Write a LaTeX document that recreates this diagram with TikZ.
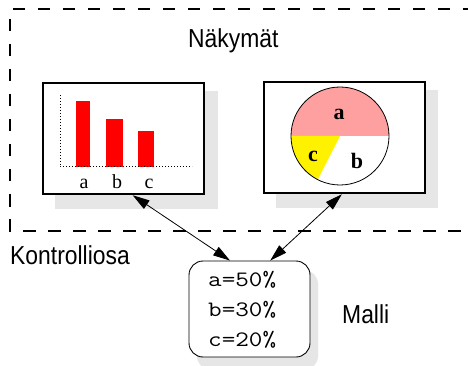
\documentclass[tikz,border=0pt]{standalone}
\usepackage{fontspec}
\setmainfont{Liberation Sans}
\newfontfamily\serifbars{Liberation Serif}
\usetikzlibrary{arrows.meta,calc}
\definecolor{shadowgray}{HTML}{E6E6E6}
\definecolor{piepink}{HTML}{FFA0A0}
\begin{document}
\begin{tikzpicture}[x=1pt,y=-1pt,
  viewframe/.style={draw=black, line width=2.5pt, fill=white, minimum width=161pt, minimum height=111pt, inner sep=0pt},
  modelbox/.style={draw=black, line width=0.9pt, fill=white, rounded corners=14pt, minimum width=121pt, minimum height=96pt, inner sep=0pt},
  shadowfill/.style={fill=shadowgray},
  region/.style={line width=1.2pt, dash pattern=on 12.5pt off 12.5pt},
  bigtext/.style={inner sep=0pt, anchor=base west, font=\fontsize{26}{30}\selectfont},
  barlabel/.style={inner sep=0pt, anchor=base, font=\serifbars\fontsize{20}{24}\selectfont},
  pielabel/.style={inner sep=0pt, anchor=base, font=\serifbars\bfseries\fontsize{22}{26}\selectfont},
  modeltext/.style={inner sep=0pt, anchor=base west, font=\ttfamily\fontsize{22}{26}\selectfont},
  link/.style={line width=0.8pt, {Triangle[length=17pt,width=10pt]}-{Triangle[length=17pt,width=10pt]}},
  bar/.style={fill=red},
  axis/.style={dotted, line width=1pt}
]
\useasboundingbox (0,0) rectangle (468,366);
\fill[white] (0,0) rectangle (468,366);

% dashed region (views)
\draw[region] (475,9) -- (10,9) -- (10,231) -- (475,231);

% shadows
\fill[shadowfill] (55,91) rectangle (218,209);
\fill[shadowfill] (276,90) rectangle (438,208);
\fill[shadowfill, rounded corners=14pt] (197,270) rectangle (318,370);

% frames
\node[viewframe] (bars) at (123.5,138.5) {};
\node[viewframe] (pie) at (344.5,137.5) {};

% bar chart
\fill[bar] (76,101) rectangle (90,167);
\fill[bar] (106,119) rectangle (123,167);
\fill[bar] (138,131) rectangle (154,167);
\draw[axis] (60,95) -- (60,167) -- (192,167);
\node[barlabel] (la) at (84,189) {a};
\node[barlabel] (lb) at (117,189) {b};
\node[barlabel] (lc) at (149,189) {c};

% pie chart
\fill[piepink] (291,136) arc[start angle=180, end angle=0, radius=49pt] -- cycle;
\fill[yellow] (340,136) -- +(180:49pt) arc[start angle=180, end angle=243, radius=49pt] -- cycle;
\draw[line width=0.8pt] (340,136) circle[radius=49pt];
\node[pielabel] (pa) at (339,120) {a};
\node[pielabel] (pc) at (313,162) {c};
\node[pielabel] (pb) at (357,168) {b};

% model
\node[modelbox] (model) at (249.5,309) {};
\node[modeltext] (ma) at (208,286) {\scalebox{1.2}[1]{a=50\%}};
\node[modeltext] (mb) at (208,316) {\scalebox{1.2}[1]{b=30\%}};
\node[modeltext] (mc) at (208,346) {\scalebox{1.2}[1]{c=20\%}};

% connectors
\draw[link] ($(bars.south west)!0.556!(bars.south east)$) -- ($(model.north west)!0.34!(model.north east)$);
\draw[link] ($(pie.south west)!0.484!(pie.south east)$) -- ($(model.north west)!0.67!(model.north east)$);

% labels
\node[bigtext] (views) at (188,47.5) {\scalebox{0.88}[1]{Näkymät}};
\node[bigtext] (ctrl) at (10,264) {\scalebox{0.88}[1]{Kontrolliosa}};
\node[bigtext] (malli) at (342,323) {\scalebox{0.88}[1]{Malli}};
\end{tikzpicture}
\end{document}
